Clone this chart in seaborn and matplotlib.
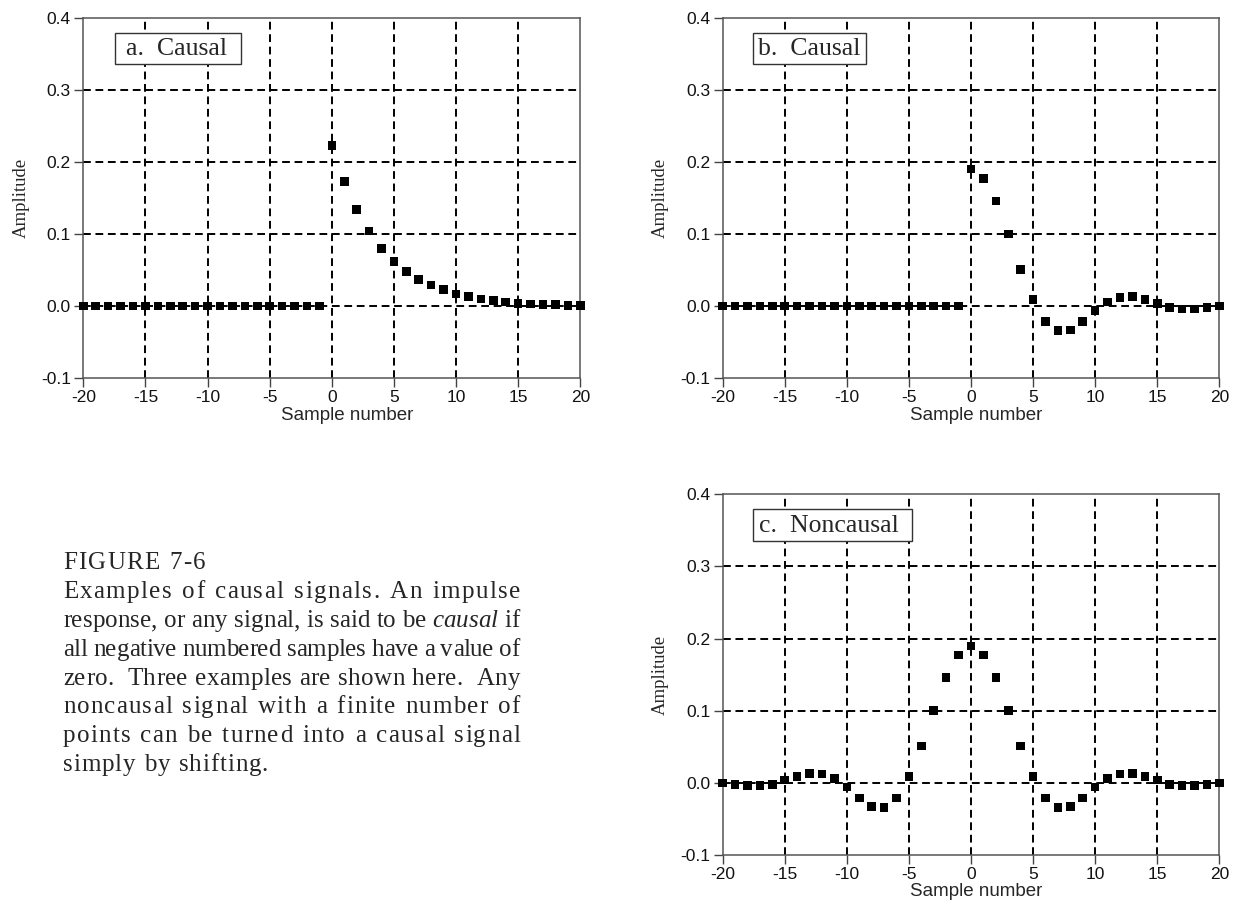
import numpy as np
import pandas as pd
import matplotlib
matplotlib.use("Agg")
import matplotlib.pyplot as plt
from matplotlib.patches import Rectangle
import seaborn as sns

# ==================== DATA ====================
samples = list(range(-20, 21))

causal_a = [0.0, 0.0, 0.0, 0.0, 0.0, 0.0, 0.0, 0.0, 0.0, 0.0,
            0.0, 0.0, 0.0, 0.0, 0.0, 0.0, 0.0, 0.0, 0.0, 0.0,
            0.223, 0.173, 0.134, 0.104, 0.080, 0.062, 0.048, 0.037, 0.029, 0.023,
            0.017, 0.013, 0.010, 0.008, 0.006, 0.004, 0.003, 0.002, 0.002, 0.001, 0.001]

causal_b = [0.0, 0.0, 0.0, 0.0, 0.0, 0.0, 0.0, 0.0, 0.0, 0.0,
            0.0, 0.0, 0.0, 0.0, 0.0, 0.0, 0.0, 0.0, 0.0, 0.0,
            0.190, 0.177, 0.146, 0.100, 0.051, 0.009, -0.021, -0.034, -0.033, -0.021,
            -0.006, 0.006, 0.012, 0.013, 0.009, 0.004, -0.002, -0.004, -0.004, -0.002, 0.000]

noncausal_c = [0.000, -0.002, -0.004, -0.004, -0.002, 0.004, 0.009, 0.013, 0.012, 0.006,
               -0.006, -0.021, -0.033, -0.034, -0.021, 0.009, 0.051, 0.100, 0.146, 0.177,
               0.190, 0.177, 0.146, 0.100, 0.051, 0.009, -0.021, -0.034, -0.033, -0.021,
               -0.006, 0.006, 0.012, 0.013, 0.009, 0.004, -0.002, -0.004, -0.004, -0.002, 0.000]

panel_titles = ["a.  Causal", "b.  Causal", "c.  Noncausal"]
x_ticks = [-20, -15, -10, -5, 0, 5, 10, 15, 20]
y_ticks = [-0.1, 0.0, 0.1, 0.2, 0.3, 0.4]

caption_head = "FIGURE 7-6"
caption_lines = [
    "Examples of causal signals. An impulse",
    "response, or any signal, is said to be *causal* if",
    "all negative numbered samples have a value of",
    "zero.  Three examples are shown here.  Any",
    "noncausal signal with a finite number of",
    "points can be turned into a causal signal",
    "simply by shifting.",
]

df = pd.DataFrame({
    "n": samples * 3,
    "amp": causal_a + causal_b + noncausal_c,
    "panel": ["a"] * 41 + ["b"] * 41 + ["c"] * 41,
})

# ==================== STYLE ====================
sns.set_style("white")
plt.rcParams["font.family"] = ["Liberation Sans", "DejaVu Sans"]
plt.rcParams["axes.unicode_minus"] = False
SERIF = ["Liberation Serif", "DejaVu Serif"]

W, H = 1233, 918
fig = plt.figure(figsize=(W / 100, H / 100), dpi=100)

def px_axes(left, top, right, bottom):
    return fig.add_axes([left / W, 1 - bottom / H, (right - left) / W, (bottom - top) / H])

axes = {
    "a": px_axes(83.3, 17.5, 580.3, 378.3),
    "b": px_axes(722.7, 17.5, 1219.3, 378.3),
    "c": px_axes(722.7, 494.3, 1219.3, 855.0),
}

# label boxes in axes fraction: (x0, x1, text_x)
label_boxes = {"a": (0.064, 0.317, 0.085), "b": (0.062, 0.288, 0.071), "c": (0.062, 0.381, 0.073)}
xlabel_pos = {"a": 0.53, "b": 0.51, "c": 0.51}

for key, title in zip(["a", "b", "c"], panel_titles):
    ax = axes[key]
    sub = df[df["panel"] == key]
    for gx in x_ticks[1:-1]:
        ax.axvline(gx, color="black", lw=1.4, ls=(0, (4, 2.4)), zorder=1)
    for gy in y_ticks[1:-1]:
        ax.axhline(gy, color="black", lw=1.4, ls=(0, (4, 2.4)), zorder=1)
    sns.scatterplot(data=sub, x="n", y="amp", ax=ax, marker="s", s=38,
                    color="black", edgecolor="none", linewidth=0, zorder=3, clip_on=False)
    ax.set_xlim(-20, 20)
    ax.set_ylim(-0.1, 0.4)
    ax.set_xticks(x_ticks)
    ax.set_yticks(y_ticks)
    ax.set_xticklabels([str(t) for t in x_ticks])
    ax.set_yticklabels([f"{t:.1f}" for t in y_ticks])
    ax.tick_params(bottom=True, left=True, direction="out", length=6.5, width=1,
                   color="#444444", labelsize=12.5, pad=2.5, labelcolor="#111111")
    ax.tick_params(axis="x", pad=2)
    for sp in ax.spines.values():
        sp.set_visible(True)
        sp.set_color("#555555")
        sp.set_linewidth(1.1)
    ax.set_xlabel("Sample number", fontsize=13.5, labelpad=0)
    ax.xaxis.set_label_coords(xlabel_pos[key], -0.079)
    ax.set_ylabel("Amplitude", fontsize=13.5, family=SERIF, labelpad=8)
    x0, x1, tx = label_boxes[key]
    ax.add_patch(Rectangle((x0, 0.870), x1 - x0, 0.088, transform=ax.transAxes,
                           facecolor="white", edgecolor="#333333", lw=1, zorder=4))
    ax.text(tx, 0.912, title, transform=ax.transAxes, ha="left", va="center",
            family=SERIF, fontsize=18.5, zorder=5)

# ==================== CAPTION (letter-spaced, justified) ====================
CAP_LEFT = 63
CAP_SIZE = 18
fig.canvas.draw()
renderer = fig.canvas.get_renderer()

def text_width(s, italic=False):
    t = fig.text(0, 0, s, family=SERIF, fontsize=CAP_SIZE,
                 style="italic" if italic else "normal")
    w = t.get_window_extent(renderer).width
    t.remove()
    return w

def draw_line(line, base, right):
    # words with the number of spaces that follow each of them
    words = []
    for tok in line.split(" "):
        if tok == "":
            w, it, n = words[-1]
            words[-1] = (w, it, n + 1)
            continue
        italic = tok.startswith("*") and tok.endswith("*")
        words.append((tok.strip("*"), italic, 1))
    space_w = text_width("a a") - text_width("aa")
    offsets = []
    for w, it, _ in words:
        ref = text_width("x", it)
        offs = [0.0] + [text_width(w[:k] + "x", it) - ref for k in range(1, len(w))]
        offsets.append((offs, text_width(w, it)))
    natural = sum(wd for _, wd in offsets) + space_w * sum(n for _, _, n in words[:-1])
    units = sum(len(w) - 1 for w, _, _ in words) + 3 * (len(words) - 1)
    u = (right - CAP_LEFT - natural) / units if units else 0
    x = CAP_LEFT
    for (w, it, n), (offs, wd) in zip(words, offsets):
        for k, ch in enumerate(w):
            fig.text((x + offs[k] + u * k) / W, 1 - base / H, ch, family=SERIF,
                     fontsize=CAP_SIZE, style="italic" if it else "normal",
                     va="baseline", ha="left")
        x += wd + u * (len(w) - 1) + space_w * n + 3 * u

draw_line(caption_head, 569, 205)
baselines = [598.3, 627.3, 656.0, 685.0, 713.3, 742.3, 771.0]
rights = [520, 520, 520, 520, 520, 520, 268]
for line, base, right in zip(caption_lines, baselines, rights):
    draw_line(line, base, right)

fig.savefig("out.png", dpi=100)
